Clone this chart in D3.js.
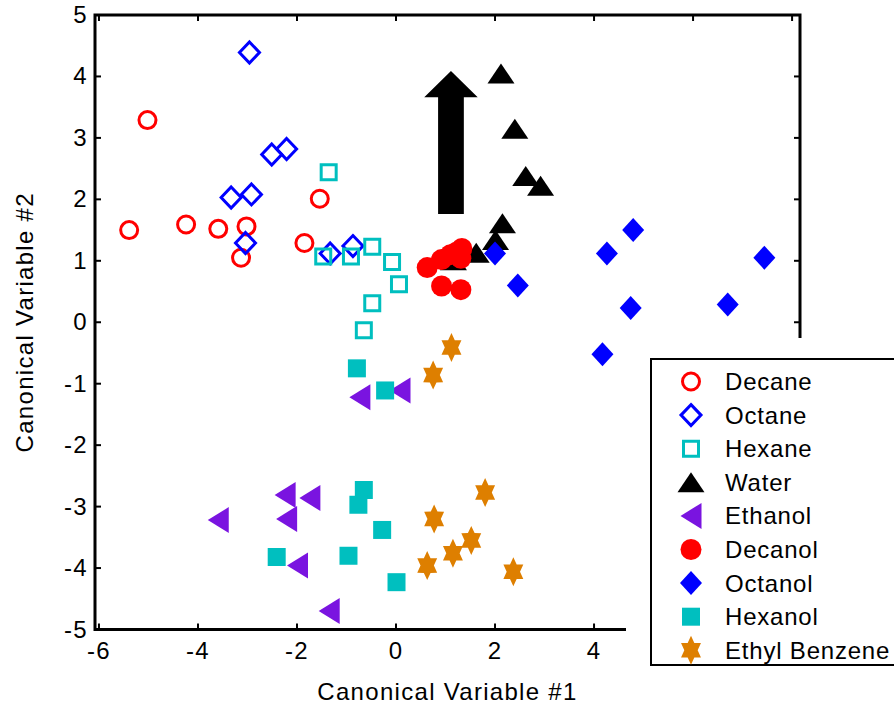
<!DOCTYPE html>
<html>
<head>
<meta charset="utf-8">
<script src="https://cdn.jsdelivr.net/npm/d3@7"></script>
<style>
  html, body { margin: 0; padding: 0; background: #fff; }
  svg { display: block; font-family: "Liberation Sans", Arial, sans-serif; }
</style>
</head>
<body>
<div id="chart"></div>
<script>
// --- data ---
const decane = [[-5.02, 3.29], [-5.39, 1.50], [-4.24, 1.59], [-3.59, 1.52], [-3.02, 1.56], [-3.13, 1.05], [-1.85, 1.29], [-1.54, 2.01]];
const octane = [[-2.96, 4.39], [-2.51, 2.73], [-2.21, 2.82], [-3.33, 2.03], [-2.92, 2.08], [-3.04, 1.29], [-1.33, 1.12], [-0.87, 1.24]];
const hexane = [[-1.36, 2.44], [-1.47, 1.07], [-0.91, 1.07], [-0.48, 1.23], [-0.08, 0.98], [0.06, 0.62], [-0.48, 0.31], [-0.65, -0.13]];
const water = [[2.12, 4.05], [2.40, 3.15], [2.62, 2.38], [2.92, 2.22], [2.15, 1.61], [2.01, 1.34], [1.62, 1.13], [1.16, 1.01]];
const ethanol = [[-0.73, -1.22], [0.08, -1.11], [-2.24, -2.81], [-1.74, -2.86], [-3.59, -3.22], [-2.21, -3.20], [-1.99, -3.96], [-1.35, -4.70]];
const decanol = [[0.63, 0.89], [0.92, 1.02], [1.10, 1.10], [1.22, 1.14], [1.33, 1.20], [1.31, 1.04], [0.92, 0.59], [1.31, 0.53]];
const octanol = [[2.00, 1.12], [2.46, 0.60], [4.26, 1.12], [4.79, 1.50], [4.74, 0.23], [4.17, -0.52], [6.70, 0.29], [7.44, 1.05]];
const hexanol = [[-0.79, -0.75], [-0.22, -1.11], [-0.65, -2.73], [-0.76, -2.97], [-0.28, -3.38], [-2.41, -3.82], [-0.96, -3.80], [0.01, -4.23]];
const ethylBenzene = [[1.12, -0.41], [0.75, -0.86], [1.80, -2.77], [0.77, -3.20], [1.52, -3.55], [1.15, -3.76], [0.63, -3.96], [2.37, -4.06]];

const xTicks = [-6, -4, -2, 0, 2, 4, 6, 8];
const yTicks = [-5, -4, -3, -2, -1, 0, 1, 2, 3, 4, 5];

// block arrow annotation (data units): tail, head base, tip
const arrow = { x: 1.11, tail: 1.76, headBase: 3.66, tip: 4.09, shaftHalf: 0.26, headHalf: 0.54 };

const series = [
  { name: 'Decane', data: decane, shape: 'circle', color: '#ff0000', filled: false },
  { name: 'Octane', data: octane, shape: 'diamond', color: '#0000ff', filled: false },
  { name: 'Hexane', data: hexane, shape: 'square', color: '#00bfbf', filled: false },
  { name: 'Water', data: water, shape: 'triUp', color: '#000000', filled: true },
  { name: 'Ethanol', data: ethanol, shape: 'triLeft', color: '#7a14e0', filled: true },
  { name: 'Decanol', data: decanol, shape: 'circle', color: '#ff0000', filled: true },
  { name: 'Octanol', data: octanol, shape: 'diamond', color: '#0000ff', filled: true },
  { name: 'Hexanol', data: hexanol, shape: 'square', color: '#00bfbf', filled: true },
  { name: 'Ethyl Benzene', data: ethylBenzene, shape: 'hexagram', color: '#de7f00', filled: true },
];

const width = 894, height = 704;
const x = d3.scaleLinear().domain([-6.08, 8.16]).range([95, 800]);
const y = d3.scaleLinear().domain([-5, 5]).range([629.5, 15]);

const svg = d3.select('#chart').append('svg')
  .attr('width', width).attr('height', height);

// marker path for each shape, centred on 0,0
function markerPath(shape, filled) {
  switch (shape) {
    case 'circle': {
      const r = filled ? 10.5 : 8.5;
      return `M${r},0A${r},${r} 0 1,1 ${-r},0A${r},${r} 0 1,1 ${r},0Z`;
    }
    case 'diamond': {
      const w = filled ? 11 : 10, h = filled ? 12 : 10.5;
      return `M0,${-h}L${w},0L0,${h}L${-w},0Z`;
    }
    case 'square': {
      const s = filled ? 9 : 7.5;
      return `M${-s},${-s}H${s}V${s}H${-s}Z`;
    }
    case 'triUp':
      return 'M0,-10L13.5,10L-13.5,10Z';
    case 'triLeft':
      return 'M-10.5,0L10.5,-13L10.5,13Z';
    case 'hexagram': {
      const rx = 11.5, ry = 14.5;
      const pts = [];
      for (let i = 0; i < 12; i++) {
        const a = -Math.PI / 2 + i * Math.PI / 6;
        const k = i % 2 === 0 ? 1 : 0.58;
        pts.push([Math.cos(a) * rx * k, Math.sin(a) * ry * k]);
      }
      return 'M' + pts.map(p => p.join(',')).join('L') + 'Z';
    }
  }
}

function styleMarker(sel, s) {
  if (s.filled) {
    sel.attr('fill', s.color).attr('stroke', 'none');
  } else {
    sel.attr('fill', 'none').attr('stroke', s.color).attr('stroke-width', 3);
  }
}

// points
const plot = svg.append('g').attr('class', 'points');
series.forEach(s => {
  plot.append('g').selectAll('path')
    .data(s.data)
    .join('path')
    .attr('d', markerPath(s.shape, s.filled))
    .attr('transform', d => `translate(${x(d[0])},${y(d[1])})`)
    .call(styleMarker, s);
});

// arrow annotation
const ax = arrow;
const arrowPts = [
  [ax.x - ax.shaftHalf, ax.tail], [ax.x + ax.shaftHalf, ax.tail],
  [ax.x + ax.shaftHalf, ax.headBase], [ax.x + ax.headHalf, ax.headBase],
  [ax.x, ax.tip],
  [ax.x - ax.headHalf, ax.headBase], [ax.x - ax.shaftHalf, ax.headBase],
];
svg.append('path')
  .attr('d', d3.line().x(d => x(d[0])).y(d => y(d[1]))(arrowPts) + 'Z')
  .attr('fill', '#000');

// axes box with inward ticks on all four sides
const frame = svg.append('g').attr('class', 'frame');
const [x0, x1] = x.range();
const [yb, yt] = y.range();
const tickLen = 6;
frame.append('rect')
  .attr('x', x0).attr('y', yt).attr('width', x1 - x0).attr('height', yb - yt)
  .attr('fill', 'none').attr('stroke', '#000').attr('stroke-width', 3);

frame.selectAll('line.xt').data(xTicks).join('line')
  .attr('class', 'xt')
  .attr('x1', d => x(d)).attr('x2', d => x(d))
  .attr('y1', yb).attr('y2', yb - tickLen)
  .attr('stroke', '#000').attr('stroke-width', 2);
frame.selectAll('line.xtt').data(xTicks).join('line')
  .attr('class', 'xtt')
  .attr('x1', d => x(d)).attr('x2', d => x(d))
  .attr('y1', yt).attr('y2', yt + tickLen)
  .attr('stroke', '#000').attr('stroke-width', 2);
frame.selectAll('line.yt').data(yTicks).join('line')
  .attr('class', 'yt')
  .attr('y1', d => y(d)).attr('y2', d => y(d))
  .attr('x1', x0).attr('x2', x0 + tickLen)
  .attr('stroke', '#000').attr('stroke-width', 2);
frame.selectAll('line.ytr').data(yTicks).join('line')
  .attr('class', 'ytr')
  .attr('y1', d => y(d)).attr('y2', d => y(d))
  .attr('x1', x1).attr('x2', x1 - tickLen)
  .attr('stroke', '#000').attr('stroke-width', 2);

const fontSize = 24, spacing = 1.3;
// labels for ticks hidden under the legend are left out
const legendLeft = 626;
frame.selectAll('text.xl').data(xTicks.filter(d => x(d) < legendLeft)).join('text')
  .attr('class', 'xl')
  .attr('x', d => x(d)).attr('y', yb + 29)
  .attr('text-anchor', 'middle').attr('font-size', fontSize)
  .attr('letter-spacing', spacing)
  .text(d => d);
frame.selectAll('text.yl').data(yTicks).join('text')
  .attr('class', 'yl')
  .attr('x', x0 - 7).attr('y', d => y(d) + 8)
  .attr('text-anchor', 'end').attr('font-size', fontSize)
  .attr('letter-spacing', spacing)
  .text(d => d);

svg.append('text')
  .attr('x', (x0 + x1) / 2).attr('y', 700)
  .attr('text-anchor', 'middle').attr('font-size', fontSize)
  .attr('letter-spacing', spacing)
  .text('Canonical Variable #1');
svg.append('text')
  .attr('transform', `translate(33,${(yb + yt) / 2}) rotate(-90)`)
  .attr('text-anchor', 'middle').attr('font-size', fontSize)
  .attr('letter-spacing', spacing)
  .text('Canonical Variable #2');

// legend: white backing hides the corner of the axes, then the bordered box
const legend = svg.append('g').attr('class', 'legend');
legend.append('rect')
  .attr('x', legendLeft).attr('y', 338).attr('width', 300).attr('height', 400)
  .attr('fill', '#fff');
legend.append('rect')
  .attr('x', 651).attr('y', 359).attr('width', 260).attr('height', 306)
  .attr('fill', '#fff').attr('stroke', '#000').attr('stroke-width', 2);

const rowY0 = 381.5, rowStep = 33.6;
const rows = legend.selectAll('g.row').data(series).join('g')
  .attr('class', 'row')
  .attr('transform', (d, i) => `translate(691,${rowY0 + i * rowStep})`);
rows.append('path')
  .attr('d', d => markerPath(d.shape, d.filled))
  .each(function(d) { d3.select(this).call(styleMarker, d); });
rows.append('text')
  .attr('x', 34).attr('y', 8.5)
  .attr('font-size', fontSize)
  .attr('letter-spacing', 0.8)
  .text(d => d.name);
</script>
</body>
</html>
